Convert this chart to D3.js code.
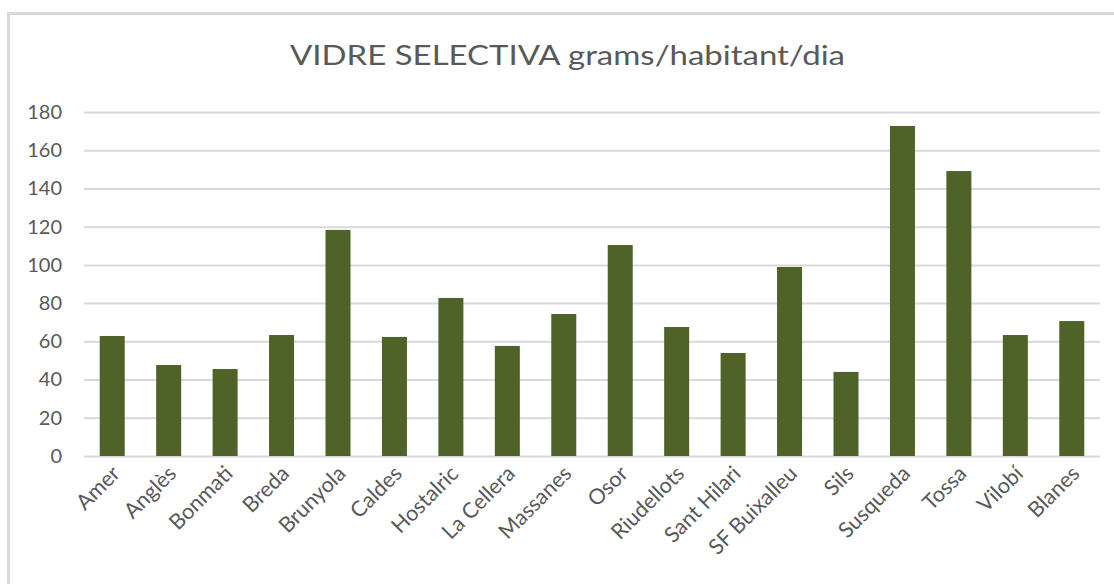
<!DOCTYPE html>
<html>
<head>
<meta charset="utf-8">
<script src="https://cdn.jsdelivr.net/npm/d3@7"></script>
<style>
  body { margin: 0; background: #fff; }
  svg { display: block; font-family: Lato, "Open Sans", sans-serif; }
</style>
</head>
<body>
<div id="chart"></div>
<script>
const title = "VIDRE SELECTIVA grams/habitant/dia";

const municipis = [
    "Amer", "Anglès", "Bonmati", "Breda", "Brunyola", "Caldes",
    "Hostalric", "La Cellera", "Massanes", "Osor", "Riudellots",
    "Sant Hilari", "SF Buixalleu", "Sils", "Susqueda", "Tossa",
    "Vilobí", "Blanes"
];

const vidre = [
    62.8, 47.6, 45.5, 63.3, 118.3, 62.3,
    82.7, 57.6, 74.3, 110.4, 67.5,
    53.9, 98.9, 44.0, 172.7, 149.1,
    63.3, 70.6
];

const yTicks = [0, 20, 40, 60, 80, 100, 120, 140, 160, 180];

const width = 1114, height = 584;
const plot = { left: 84, right: 1100, top: 112, bottom: 456 };
const barColor = "#4f6228";
const gridColor = "#d9d9d9";
const textColor = "#595959";

const svg = d3.select("#chart")
    .append("svg")
    .attr("width", width)
    .attr("height", height);

// chart frame, only top and left edges are inside the picture
svg.append("rect")
    .attr("x", 8.5)
    .attr("y", 13.5)
    .attr("width", 1300)
    .attr("height", 800)
    .attr("fill", "none")
    .attr("stroke", gridColor)
    .attr("stroke-width", 3);

let titleText = svg.append("text")
    .attr("x", 567.5)
    .attr("y", 65)
    .attr("text-anchor", "middle")
    .attr("fill", textColor)
    .attr("font-size", 26)
    .text(title);
// squeeze to the width of the original narrow font
titleText.attr("textLength", 555).attr("lengthAdjust", "spacingAndGlyphs");

let x = d3.scaleBand()
    .domain(municipis)
    .range([plot.left, plot.right])
    .paddingInner(0.557)
    .paddingOuter(0.2785);

let y = d3.scaleLinear()
    .domain([0, 180])
    .range([plot.bottom, plot.top]);

// gridlines + y labels
let yAxis = svg.append("g")
    .attr("transform", `translate(${plot.left},0)`)
    .call(d3.axisLeft(y)
        .tickValues(yTicks)
        .tickSize(-(plot.right - plot.left))
        .tickPadding(22));

yAxis.select(".domain").remove();
yAxis.selectAll(".tick line")
    .attr("stroke", gridColor)
    .attr("stroke-width", 2);
yAxis.selectAll(".tick text")
    .attr("fill", textColor)
    .attr("font-size", 20)
    .attr("font-family", "Lato, sans-serif");

// bars
svg.append("g")
    .selectAll("rect")
    .data(municipis)
    .join("rect")
    .attr("x", d => x(d))
    .attr("y", (d, i) => y(vidre[i]))
    .attr("width", x.bandwidth())
    .attr("height", (d, i) => y(0) - y(vidre[i]))
    .attr("fill", barColor);

// rotated category labels
svg.append("g")
    .selectAll("text")
    .data(municipis)
    .join("text")
    .attr("transform", d => `translate(${x(d) + x.bandwidth() / 2 + 9},475) rotate(-45)`)
    .attr("text-anchor", "end")
    .attr("fill", textColor)
    .attr("font-size", 21.5)
    .text(d => d);
</script>
</body>
</html>
